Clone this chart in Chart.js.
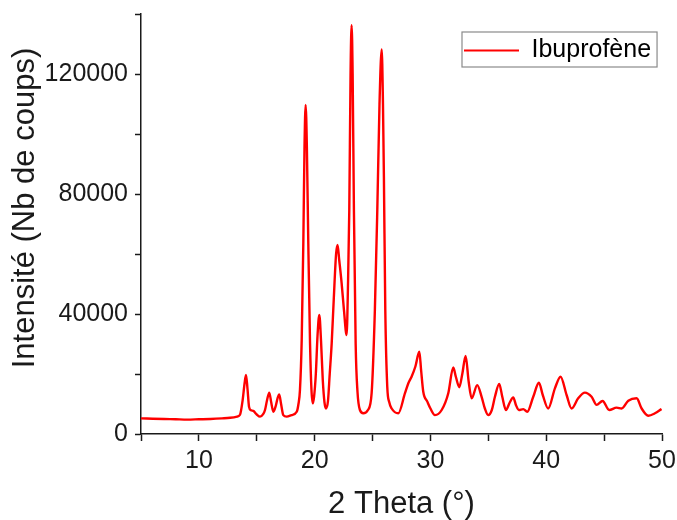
<!DOCTYPE html>
<html>
<head>
<meta charset="utf-8">
<title>Ibuprofène DRX</title>
<script src="https://cdn.jsdelivr.net/npm/chart.js@4.4.1/dist/chart.umd.min.js"></script>
<style>
  html, body { margin: 0; padding: 0; background: #fff; }
  #wrap { width: 677px; height: 520px; }
</style>
</head>
<body>
<div id="wrap"><canvas id="xrdChart" width="677" height="520"></canvas></div>
<script>
// Diffractogram (2 theta in degrees, counts)
const twoTheta = [
  5.0, 6.0, 7.0, 8.0, 9.0, 10.0, 11.0, 12.0, 12.7, 13.3,
  13.55, 13.78, 13.95, 14.07, 14.2, 14.33, 14.5, 14.7, 15.0, 15.28,
  15.55, 15.71, 15.9, 16.08, 16.25, 16.43, 16.65, 16.8, 16.94, 17.1,
  17.29, 17.58, 18.0, 18.45, 18.6, 18.73, 18.88, 19.02, 19.12, 19.22,
  19.33, 19.45, 19.6, 19.72, 19.83, 19.95, 20.1, 20.25, 20.4, 20.55,
  20.7, 20.85, 20.98, 21.15, 21.3, 21.47, 21.65, 21.85, 21.98, 22.12,
  22.33, 22.53, 22.76, 22.88, 22.99, 23.1, 23.19, 23.28, 23.39, 23.54,
  23.7, 23.91, 24.2, 24.6, 24.92, 25.2, 25.41, 25.6, 25.79, 25.9,
  25.98, 26.1, 26.27, 26.45, 26.65, 27.22, 27.8, 28.1, 28.37, 28.7,
  29.04, 29.2, 29.38, 29.73, 30.0, 30.39, 30.97, 31.54, 31.97, 32.2,
  32.49, 32.75, 33.04, 33.3, 33.56, 34.04, 34.42, 34.7, 34.99, 35.3,
  35.57, 35.94, 36.2, 36.52, 36.85, 37.15, 37.4, 37.64, 38.02, 38.36,
  38.88, 39.37, 39.7, 40.17, 40.75, 41.24, 41.76, 42.19, 42.76, 43.34,
  43.92, 44.35, 44.87, 45.44, 46.08, 46.51, 47.09, 47.81, 48.24, 48.81,
  49.39, 49.96
];
const intensity = [
  5200, 5100, 5000, 4900, 4800, 4900, 5000, 5200, 5400, 5800,
  6400, 11300, 17000, 19700, 15000, 9100, 7900, 7700, 6500, 5800,
  6600, 8000, 11500, 13800, 10500, 7400, 9500, 12000, 13200, 10000,
  6300, 5800, 6300, 7400, 10000, 14700, 31300, 63600, 95000, 109700,
  95000, 63600, 30200, 15000, 10200, 12500, 20000, 33000, 39700, 31000,
  18000, 10500, 8500, 11000, 20000, 30200, 45000, 60000, 63000, 58000,
  50200, 41300, 33000, 50000, 74700, 120000, 136300, 120000, 74700, 30200,
  14000, 8000, 6900, 8000, 13600, 41300, 74700, 110000, 128200, 110000,
  85800, 41300, 15800, 10500, 8500, 6900, 13600, 17000, 19100, 22500,
  27400, 21000, 14100, 10800, 8500, 6300, 8000, 13600, 22200, 19000,
  15600, 20000, 26000, 17500, 11900, 16300, 12400, 8500, 6300, 8000,
  12400, 16700, 12500, 8000, 10500, 12200, 9500, 8000, 8300, 7400,
  12400, 17100, 13000, 8500, 15200, 19100, 13000, 8500, 11900, 13800,
  12400, 9700, 11000, 8000, 8800, 8500, 11100, 11900, 8500, 6100,
  6900, 8300
];
const seriesName = "Ibuprofène";
const xTitle = "2 Theta (°)";
const yTitle = "Intensité (Nb de coups)";

const FONT = "'Liberation Sans', Arial, sans-serif";
const INK = "#1a1a1a";
const Y_TITLE_SHIFT = -16; // the y title sits a bit above the axis middle

// Move the legend into the top right corner and frame it
const legendFrame = {
  id: "legendFrame",
  afterLayout(chart) {
    const lg = chart.legend;
    if (lg) {
      lg.left = 454;
      lg.top = 28;
      lg.right = chart.chartArea.right;
      lg.bottom = chart.chartArea.bottom;
      lg.width = lg.right - lg.left;
      lg.height = lg.bottom - lg.top;
    }

    // nudge the y axis title upwards
    const ys = chart.scales.y;
    if (ys && !ys._shifted) {
      const orig = ys.drawTitle;
      ys.drawTitle = function () {
        this.ctx.save();
        this.ctx.translate(0, Y_TITLE_SHIFT);
        orig.call(this);
        this.ctx.restore();
      };
      ys._shifted = true;
    }
  },
  afterDraw(chart) {
    const lg = chart.legend;
    if (!lg || !lg.legendHitBoxes.length) return;
    const hb = lg.legendHitBoxes[0];
    const ctx = chart.ctx;
    ctx.save();
    ctx.strokeStyle = "#8a8a8a";
    ctx.lineWidth = 1.2;
    ctx.strokeRect(hb.left - 2, 32, hb.width + 8, 35);
    ctx.restore();
  }
};

// Keep the plot frame exactly where the layout padding puts it
function noScalePadding(scale) {
  scale.paddingTop = 0;
  scale.paddingBottom = 0;
  scale.paddingLeft = 0;
  scale.paddingRight = 0;
}

const points = twoTheta.map((t, i) => ({ x: t, y: intensity[i] }));

new Chart(document.getElementById("xrdChart"), {
  type: "line",
  data: {
    datasets: [
      {
        label: seriesName,
        data: points,
        borderColor: "#ff0000",
        backgroundColor: "#ff0000",
        borderWidth: 2.4,
        pointRadius: 0,
        cubicInterpolationMode: "monotone",
        fill: false,
      },
    ],
  },
  options: {
    responsive: false,
    animation: false,
    layout: { padding: { top: 14, right: 15, left: 0, bottom: 0 } },
    plugins: {
      tooltip: { enabled: false },
      legend: {
        position: "chartArea",
        align: "start",
        labels: {
          font: { family: FONT, size: 25 },
          color: INK,
          boxWidth: 55,
          boxHeight: 2,
          padding: 10,
          generateLabels: (chart) =>
            chart.data.datasets.map((ds, i) => ({
              text: ds.label,
              fillStyle: ds.borderColor,
              strokeStyle: ds.borderColor,
              lineWidth: 0,
              hidden: false,
              datasetIndex: i,
            })),
        },
      },
    },
    scales: {
      x: {
        type: "linear",
        min: 5,
        max: 50,
        afterFit: (scale) => { scale.height = 86; noScalePadding(scale); },
        border: { display: true, color: INK, width: 1.5 },
        grid: { drawOnChartArea: false, drawTicks: true, tickLength: 7, tickWidth: 1.5, tickColor: INK },
        ticks: {
          stepSize: 5,
          autoSkip: false,
          maxRotation: 0,
          padding: 5,
          color: INK,
          font: { family: FONT, size: 25 },
          callback: (v) => (v % 10 === 0 ? String(v) : ""),
        },
        title: {
          display: true,
          text: xTitle,
          color: INK,
          font: { family: FONT, size: 31, lineHeight: 1 },
          padding: { top: 0, bottom: 0 },
        },
      },
      y: {
        min: 0,
        max: 140000,
        afterFit: (scale) => { scale.width = 141; noScalePadding(scale); },
        border: { display: true, color: INK, width: 1.5 },
        grid: { drawOnChartArea: false, drawTicks: true, tickLength: 6, tickWidth: 1.5, tickColor: INK },
        ticks: {
          stepSize: 20000,
          autoSkip: false,
          padding: 7,
          color: INK,
          font: { family: FONT, size: 25 },
          callback: (v) => (v % 40000 === 0 ? String(v) : ""),
        },
        title: {
          display: true,
          text: yTitle,
          color: INK,
          font: { family: FONT, size: 31, lineHeight: 1 },
          padding: { top: 10, bottom: 0 },
        },
      },
    },
  },
  plugins: [legendFrame],
});
</script>
</body>
</html>
